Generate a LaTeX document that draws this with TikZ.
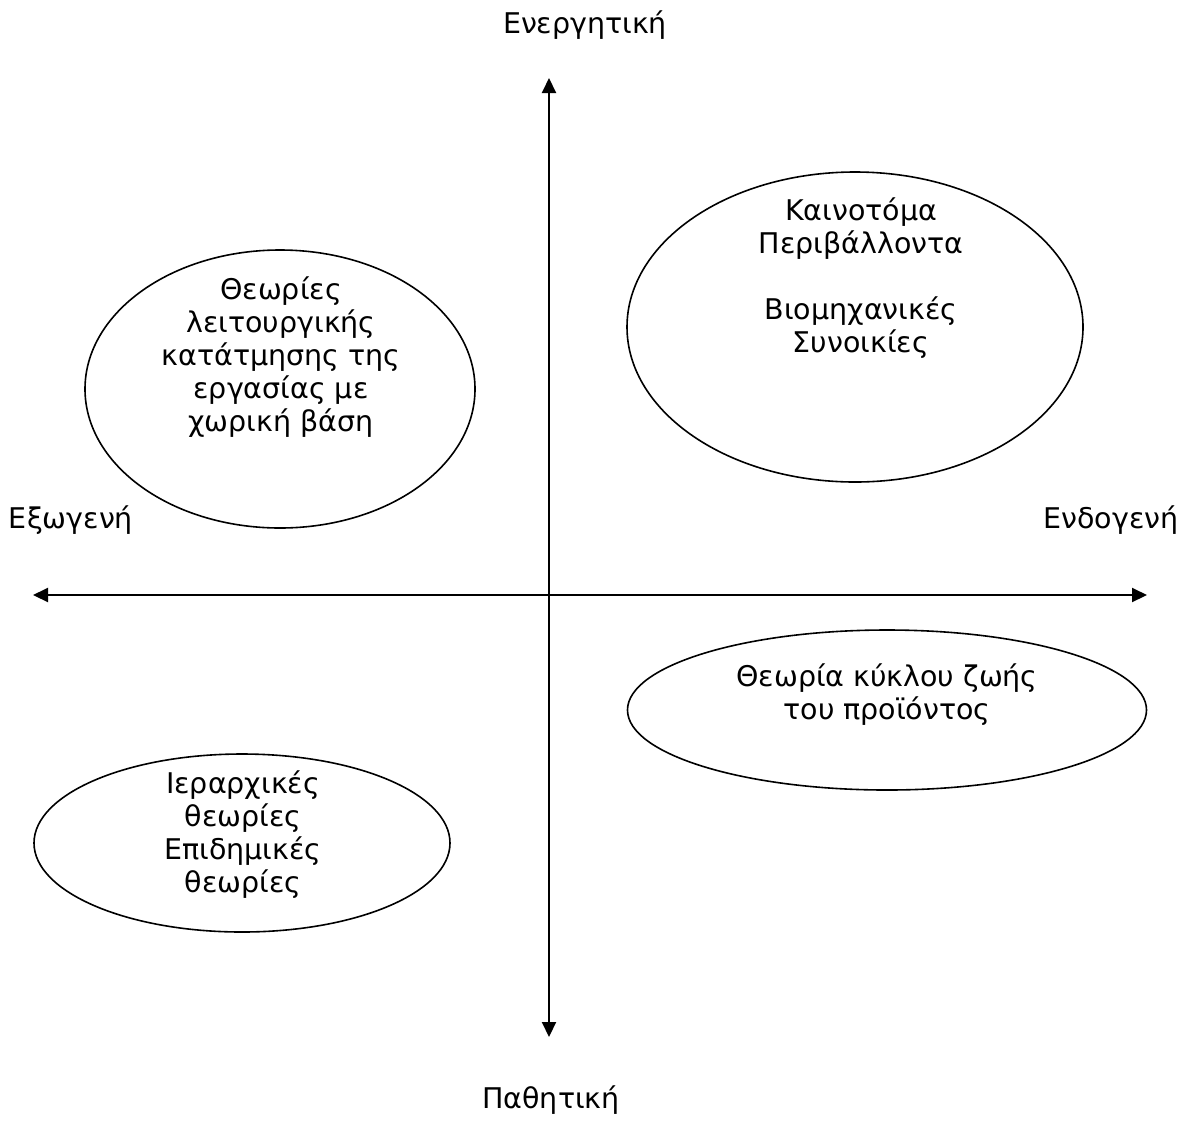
\documentclass[tikz,border=0pt]{standalone}
\usepackage{fontspec}
\setmainfont{DejaVu Sans}
\usetikzlibrary{arrows.meta,shapes.geometric}
\begin{document}
\begin{tikzpicture}[x=1pt,y=-1pt,
  axis/.style={line width=2pt,{Triangle[length=15pt,width=14pt]}-{Triangle[length=15pt,width=14pt]}},
  oval/.style={draw,line width=1.6pt,ellipse,inner sep=0pt},
  lbl/.style={font=\fontsize{28.5}{33}\selectfont,align=center,inner sep=0pt}]
\useasboundingbox (0,0) rectangle (1201,1120);
\coordinate (T) at (549,78);
\coordinate (B) at (549,1037);
\coordinate (L) at (33,595);
\coordinate (R) at (1147,595);
\draw[axis] (B) -- (T);
\draw[axis] (L) -- (R);
\node[lbl] (tl) at (585,25) {Ενεργητική};
\node[lbl] (bl) at (551,1100) {Παθητική};
\node[lbl] (ll) at (71,520) {Εξωγενή};
\node[lbl] (rl) at (1111,520) {Ενδογενή};
\node[oval,minimum width=390pt,minimum height=278pt] (e1) at (280,389) {};
\node[oval,minimum width=456pt,minimum height=310pt] (e2) at (855,327) {};
\node[oval,minimum width=519pt,minimum height=160pt] (e3) at (887,710) {};
\node[oval,minimum width=416pt,minimum height=178pt] (e4) at (242,843) {};
\node[lbl] (t1) at (281,357) {Θεωρίες\\λειτουργικής\\κατάτμησης της\\εργασίας με\\χωρική βάση};
\node[lbl] (t2) at (861,278) {Καινοτόμα\\Περιβάλλοντα\\[33pt]Βιομηχανικές\\Συνοικίες};
\node[lbl] (t3) at (887,695) {Θεωρία κύκλου ζωής\\του προϊόντος};
\node[lbl] (t4) at (243,835) {Ιεραρχικές\\θεωρίες\\Επιδημικές\\θεωρίες};
\end{tikzpicture}
\end{document}
